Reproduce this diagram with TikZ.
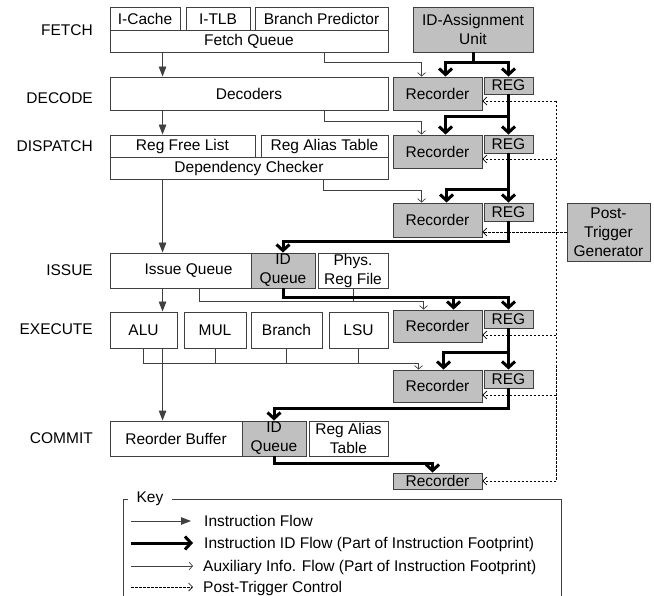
\documentclass[tikz,border=0pt]{standalone}
\usepackage{fontspec}
\setmainfont{Liberation Sans}
\usetikzlibrary{arrows.meta}
\definecolor{boxgray}{HTML}{C0C0C0}
\definecolor{edge}{HTML}{404040}
\newcommand{\mkbox}[7]{\node[#6, minimum width={#4-#2}, minimum height={#5-#3}] (#1) at ({(#2+#4)/2},{(#3+#5)/2}) {#7};}
\begin{document}
\begin{tikzpicture}[x=1pt,y=-1pt,
  font=\fontsize{15.5}{19}\selectfont,
  box/.style={draw=edge, line width=0.9pt, inner sep=0pt, align=center},
  gbox/.style={box, fill=boxgray},
  stage/.style={anchor=east, inner sep=0pt},
  iflow/.style={draw=edge, line width=0.9pt, -{Triangle[length=10pt,width=7.5pt]}},
  idflow/.style={draw=black, line width=3pt, -{Straight Barb[length=6pt,width=13pt]}},
  aux/.style={draw=edge, line width=0.7pt, -{Straight Barb[length=3.5pt,width=8pt]}},
  plain/.style={draw=edge, line width=0.7pt},
  ptc/.style={draw=black, line width=0.7pt, dash pattern=on 2.5pt off 1.5pt, -{Straight Barb[length=4pt,width=8pt]}},
  ptcline/.style={draw=black, line width=0.7pt, dash pattern=on 2.5pt off 1.5pt},
  keytext/.style={anchor=west, inner sep=0pt, text height=11pt, text depth=0pt},
]
\useasboundingbox (0,0) rectangle (654,596);

% stage labels
\node[stage] (lfetch) at (93,30) {FETCH};
\node[stage] (ldecode) at (93,98) {DECODE};
\node[stage] (ldispatch) at (93,146) {DISPATCH};
\node[stage] (lissue) at (93,270) {ISSUE};
\node[stage] (lexecute) at (93,329) {EXECUTE};
\node[stage] (lcommit) at (93,438) {COMMIT};

% pipeline boxes
\mkbox{icache}{110}{7.5}{180}{30}{box}{I-Cache}
\mkbox{itlb}{186}{7.5}{250}{30}{box}{I-TLB}
\mkbox{bpred}{255}{7.5}{388}{30}{box}{Branch Predictor}
\mkbox{fq}{110}{30}{388}{52}{box}{Fetch Queue}
\mkbox{dec}{110}{77}{388}{110}{box}{Decoders}
\mkbox{rfl}{110}{135}{255}{157}{box}{Reg Free List}
\mkbox{rat}{261}{135}{388}{157}{box}{Reg Alias Table}
\mkbox{dep}{110}{157}{388}{179}{box}{Dependency Checker}
\mkbox{iq}{110}{253}{251}{288}{box}{\hspace*{16pt}Issue Queue}
\mkbox{idqa}{251}{253}{315}{288}{gbox}{ID\\Queue}
\mkbox{prf}{318}{253}{388}{288}{box}{Phys.\\Reg File}
\mkbox{alu}{110}{312}{177}{348}{box}{ALU}
\mkbox{mul}{184}{312}{246}{348}{box}{MUL}
\mkbox{br}{251}{312}{322}{348}{box}{Branch}
\mkbox{lsu}{329}{312}{388}{348}{box}{LSU}
\mkbox{rob}{110}{421}{242}{456}{box}{Reorder Buffer}
\mkbox{idqb}{242}{421}{306}{456}{gbox}{ID\\Queue}
\mkbox{ratb}{309}{421}{388}{456}{box}{Reg Alias\\Table}

% footprint hardware
\mkbox{idau}{413}{7}{533}{52}{gbox}{ID-Assignment\\Unit}
\mkbox{reca}{393}{77}{482}{110}{gbox}{Recorder}
\mkbox{rega}{484}{77}{533}{94}{gbox}{REG}
\mkbox{recb}{393}{135}{482}{168}{gbox}{Recorder}
\mkbox{regb}{484}{135}{533}{153}{gbox}{REG}
\mkbox{recc}{393}{203}{482}{237}{gbox}{Recorder}
\mkbox{regc}{484}{203}{533}{221}{gbox}{REG}
\mkbox{ptg}{567}{203}{650}{261}{gbox}{Post-\\Trigger\\Generator}
\mkbox{recd}{393}{310}{482}{342}{gbox}{Recorder}
\mkbox{regd}{484}{310}{533}{328}{gbox}{REG}
\mkbox{rece}{393}{370}{482}{402}{gbox}{Recorder}
\mkbox{rege}{484}{370}{533}{388}{gbox}{REG}
\mkbox{recf}{393}{473}{482}{489}{gbox}{Recorder}

% instruction flow
\draw[iflow] ([xshift=53pt]fq.south west) -- ([xshift=53pt]dec.north west);
\draw[iflow] ([xshift=53pt]dec.south west) -- ([xshift=53pt]rfl.north west);
\draw[iflow] ([xshift=53pt]dep.south west) -- ([xshift=53pt]iq.north west);
\draw[iflow] ([xshift=53pt]iq.south west) -- ([xshift=53pt]alu.north west);
\draw[iflow] ([xshift=53pt]alu.south west) -- ([xshift=53pt]rob.north west);

% auxiliary info flow
\draw[aux] ([xshift=215pt]fq.south west) -- ++(0,10) -| ([xshift=29pt]reca.north west);
\draw[aux] ([xshift=215pt]dec.south west) -- ++(0,11) -| ([xshift=29pt]recb.north west);
\draw[aux] ([xshift=214pt]dep.south west) -- ++(0,11) -| ([xshift=29pt]recc.north west);
\draw[aux] ([xshift=90pt]iq.south west) -- ++(0,13) -| ([xshift=31pt]recd.north west);
\draw[plain] (prf.south) -- ++(0,13);
\draw[aux] (alu.south) -- ++(0,15) -| ([xshift=26pt]rece.north west);
\draw[plain] (mul.south) -- ++(0,15);
\draw[plain] (br.south) -- ++(0,15);
\draw[plain] (lsu.south) -- ++(0,15);

% instruction ID flow
\draw[idflow] (idau.south) -- ++(0,10) -| ([xshift=53pt]reca.north west);
\draw[idflow] (idau.south) -- ++(0,10) -| (rega.north);
\draw[idflow] (rega.south) -- ++(0,22) -| ([xshift=53pt]recb.north west);
\draw[idflow] (rega.south) -- (regb.north);
\draw[idflow] (regb.south) -- ++(0,36) -| ([xshift=54pt]recc.north west);
\draw[idflow] (regb.south) -- (regc.north);
\draw[idflow] (regc.south) -- ++(0,20) -| (idqa.north);
\draw[idflow] (idqa.south) -- ++(0,9) -| ([xshift=61pt]recd.north west);
\draw[idflow] (idqa.south) -- ++(0,9) -| (regd.north);
\draw[idflow] (regd.south) -- ++(0,24) -| ([xshift=51pt]rece.north west);
\draw[idflow] (regd.south) -- (rege.north);
\draw[idflow] (rege.south) -- ++(0,20) -| (idqb.north);
\draw[idflow] (idqb.south) -- ++(0,7) -| ([xshift=40pt]recf.north west);

% post-trigger control
\coordinate (vt) at (556,101);
\coordinate (vb) at (556,481);
\draw[ptcline] (vt) -- (vb);
\draw[ptc] (vt) -- (vt -| reca.east);
\draw[ptc] ([yshift=-7.5pt]recb.east -| vt) -- ([yshift=-7.5pt]recb.east);
\draw[ptc] (ptg.west) -- (ptg.west -| recc.east);
\draw[ptc] ([yshift=-9pt]recd.east -| vt) -- ([yshift=-9pt]recd.east);
\draw[ptc] ([yshift=-9pt]rece.east -| vt) -- ([yshift=-9pt]rece.east);
\draw[ptc] (vb) -- (vb -| recf.east);

% key
\draw[draw=edge, line width=0.8pt] (123,600) -- (123,499) -- (561,499) -- (561,600);
\node[fill=white, inner xsep=9pt, inner ysep=1pt] (key) at (150,499) {Key};
\coordinate (ka1) at (131,521); \coordinate (kb1) at (191,521);
\coordinate (ka2) at (131,543); \coordinate (kb2) at (193,543);
\coordinate (ka3) at (131,566); \coordinate (kb3) at (193,566);
\coordinate (ka4) at (131,587); \coordinate (kb4) at (193,587);
\draw[iflow] (ka1) -- (kb1);
\draw[idflow] (ka2) -- (kb2);
\draw[aux] (ka3) -- (kb3);
\draw[ptc] (ka4) -- (kb4);
\node[keytext] (kt1) at (204,521) {Instruction Flow};
\node[keytext] (kt2) at (204,543) {Instruction ID Flow (Part of Instruction Footprint)};
\node[keytext] (kt3) at (203,566) {Auxiliary Info. Flow (Part of Instruction Footprint)};
\node[keytext] (kt4) at (203,587) {Post-Trigger Control};
\end{tikzpicture}
\end{document}
